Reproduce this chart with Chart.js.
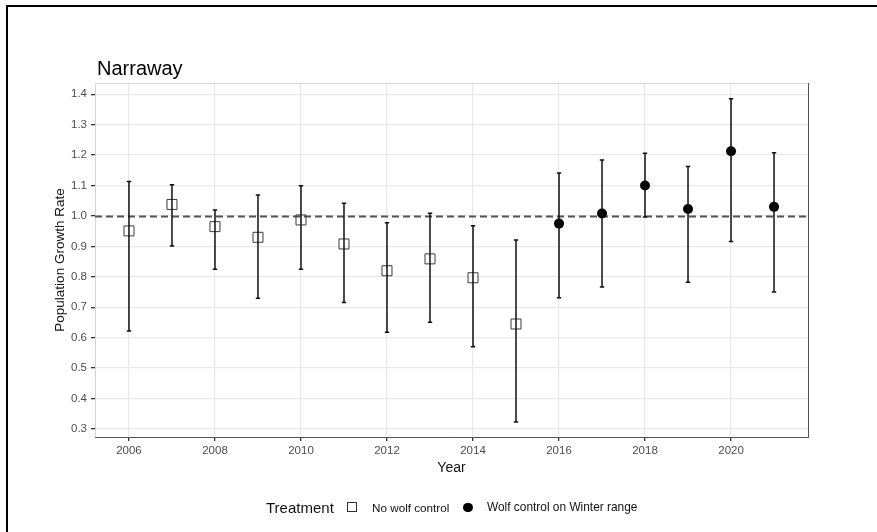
<!DOCTYPE html>
<html>
<head>
<meta charset="utf-8">
<script src="https://cdn.jsdelivr.net/npm/chart.js@4"></script>
<style>
  html,body{margin:0;padding:0;background:#fff;}
  #wrap{position:relative;width:877px;height:532px;overflow:hidden;font-family:"Liberation Sans",Arial,sans-serif;}
  canvas{position:absolute;left:0;top:0;}
  .t{position:absolute;line-height:1;white-space:nowrap;color:#000;}
</style>
</head>
<body>
<div id="wrap">
  <canvas id="c" width="877" height="532"></canvas>
  <div style="position:absolute;left:6px;top:5px;width:2px;height:527px;background:#000"></div>
  <div style="position:absolute;left:6px;top:5px;width:871px;height:2px;background:#000"></div>
  <div class="t" style="left:97px;top:58px;font-size:20px;">Narraway</div>
  <div class="t" style="left:266px;top:499.5px;font-size:15px;color:#111;">Treatment</div>
  <div style="position:absolute;left:347px;top:502px;width:8px;height:8px;border:1px solid #333;"></div>
  <div class="t" style="left:372px;top:501.5px;font-size:11.7px;color:#111;">No wolf control</div>
  <div style="position:absolute;left:463px;top:502.5px;width:9.5px;height:9.5px;border-radius:50%;background:#000;"></div>
  <div class="t" style="left:487px;top:501.5px;font-size:11.9px;color:#111;">Wolf control on Winter range</div>
</div>
<script>
// ---- data ----
const years     = [2006,2007,2008,2009,2010,2011,2012,2013,2014,2015,2016,2017,2018,2019,2020,2021];
const treatment = ['No wolf control','No wolf control','No wolf control','No wolf control','No wolf control',
                   'No wolf control','No wolf control','No wolf control','No wolf control','No wolf control',
                   'Wolf control on Winter range','Wolf control on Winter range','Wolf control on Winter range',
                   'Wolf control on Winter range','Wolf control on Winter range','Wolf control on Winter range'];
const growth    = [0.951,1.038,0.965,0.930,0.987,0.908,0.820,0.859,0.797,0.645,0.975,1.008,1.100,1.023,1.213,1.030];
const lower     = [0.622,0.901,0.825,0.730,0.825,0.716,0.618,0.651,0.570,0.323,0.731,0.767,0.997,0.782,0.916,0.750];
const upper     = [1.113,1.103,1.020,1.069,1.099,1.042,0.978,1.009,0.968,0.921,1.141,1.184,1.206,1.163,1.385,1.208];
const yTicks    = [0.3,0.4,0.5,0.6,0.7,0.8,0.9,1.0,1.1,1.2,1.3,1.4];
const xTicks    = [2006,2008,2010,2012,2014,2016,2018,2020];
const refLine   = 1.0;

function pts(t){
  const out=[];
  for(let i=0;i<years.length;i++) if(treatment[i]===t) out.push({x:years[i],y:growth[i]});
  return out;
}

Chart.defaults.font.family = '"Liberation Sans", Arial, sans-serif';

const errPlugin = {
  id:'errbars',
  beforeDatasetsDraw(chart){
    const {ctx, chartArea:a, scales:{y}} = chart;
    const yy = Math.round(y.getPixelForValue(refLine))+0.5;
    ctx.save();
    ctx.strokeStyle='#555'; ctx.lineWidth=1.8; ctx.setLineDash([7,4]);
    ctx.beginPath(); ctx.moveTo(a.left,yy); ctx.lineTo(a.right,yy); ctx.stroke();
    ctx.restore();
  },
  afterDatasetsDraw(chart){
    const {ctx, scales:{x,y}} = chart;
    ctx.save();
    ctx.strokeStyle='#111'; ctx.lineWidth=1.5;
    for(let i=0;i<years.length;i++){
      const px = x.getPixelForValue(years[i]);
      const yl = y.getPixelForValue(lower[i]);
      const yu = y.getPixelForValue(upper[i]);
      ctx.beginPath();
      ctx.moveTo(px,yu); ctx.lineTo(px,yl);
      ctx.moveTo(px-2.2,yu); ctx.lineTo(px+2.2,yu);
      ctx.moveTo(px-2.2,yl); ctx.lineTo(px+2.2,yl);
      ctx.stroke();
    }
    ctx.restore();
  },
  afterDraw(chart){
    const {ctx, chartArea:a} = chart;
    ctx.save();
    ctx.lineWidth=1;
    ctx.strokeStyle='#d6d6d6';
    ctx.beginPath(); ctx.moveTo(a.left,a.top+0.5); ctx.lineTo(a.right,a.top+0.5); ctx.stroke();
    ctx.strokeStyle='#555';
    ctx.beginPath(); ctx.moveTo(a.right+0.5,a.top); ctx.lineTo(a.right+0.5,a.bottom+1); ctx.stroke();
    ctx.restore();
  }
};

new Chart(document.getElementById('c'), {
  type:'scatter',
  data:{
    datasets:[
      {label:'No wolf control', data:pts('No wolf control'), pointStyle:'rect', pointRadius:7.07,
       pointHoverRadius:7.07, backgroundColor:'rgba(0,0,0,0)', borderColor:'#3a3a3a', borderWidth:1},
      {label:'Wolf control on Winter range', data:pts('Wolf control on Winter range'), pointStyle:'circle',
       pointRadius:5, pointHoverRadius:5, backgroundColor:'#000', borderColor:'#000', borderWidth:0}
    ]
  },
  options:{
    responsive:false, animation:false, devicePixelRatio:1,
    layout:{padding:{top:83,right:69,left:48,bottom:55}},
    plugins:{legend:{display:false}, tooltip:{enabled:false}, title:{display:false}},
    scales:{
      x:{
        type:'linear', min:2005.21, max:2021.79,
        afterFit(s){ s.height = 40; },
        afterBuildTicks(s){ s.ticks = xTicks.map(v=>({value:v})); },
        ticks:{color:'#4d4d4d', font:{size:11.5}, padding:3, maxRotation:0, autoSkip:false,
               callback:(v)=>String(v)},
        grid:{color:'#e9e9e9', lineWidth:1.3, tickColor:'#333', tickLength:4, drawTicks:true},
        border:{display:true, color:'#555', width:1},
        title:{display:true, text:'Year', color:'#111', font:{size:14}, padding:{top:3,bottom:0}}
      },
      y:{
        type:'linear', min:0.2737, max:1.437,
        afterFit(s){ s.width = 47; },
        afterBuildTicks(s){ s.ticks = yTicks.map(v=>({value:v})); },
        ticks:{color:'#4d4d4d', font:{size:11.5}, padding:4, autoSkip:false,
               callback:(v)=>Number(v).toFixed(1)},
        grid:{color:'#e9e9e9', lineWidth:1.3, tickColor:'#333', tickLength:4, drawTicks:true},
        border:{display:true, color:'#d6d6d6', width:1},
        title:{display:true, text:'Population Growth Rate', color:'#111', font:{size:13.5}, padding:{top:4,bottom:0}}
      }
    }
  },
  plugins:[errPlugin]
});
</script>
</body>
</html>
